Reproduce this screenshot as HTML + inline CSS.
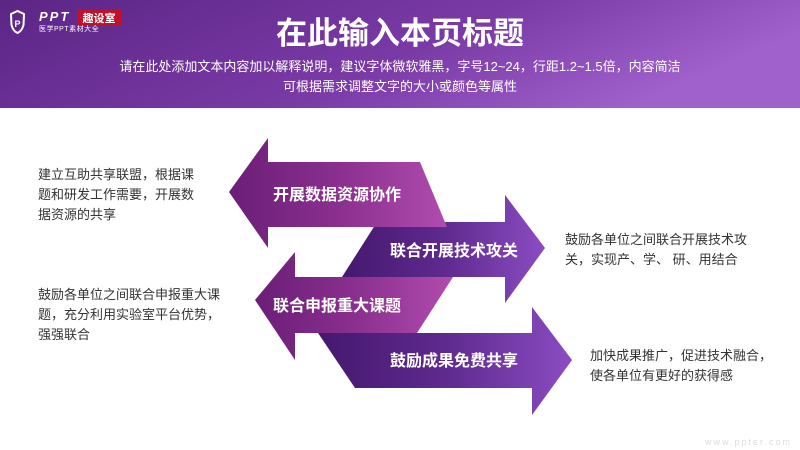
<!DOCTYPE html>
<html><head><meta charset="utf-8"><style>
body{margin:0;width:800px;height:450px;overflow:hidden;background:#fff;font-family:"Liberation Sans","Noto Sans CJK SC",sans-serif;}
svg{display:block}
</style></head><body>
<svg width="800" height="450" xmlns="http://www.w3.org/2000/svg" font-family="Liberation Sans, Noto Sans CJK SC, sans-serif">
<defs>
<linearGradient id="hd" x1="0" y1="0" x2="1" y2="0.3"><stop offset="0" stop-color="#5b2585"/><stop offset="0.6" stop-color="#7a3aa6"/><stop offset="1" stop-color="#a061cc"/></linearGradient>
<linearGradient id="la" x1="0" y1="0" x2="1" y2="0"><stop offset="0" stop-color="#6a1e78"/><stop offset="0.5" stop-color="#8a2f8e"/><stop offset="1" stop-color="#b04cae"/></linearGradient>
<linearGradient id="ra" x1="0" y1="0" x2="1" y2="0"><stop offset="0" stop-color="#45186e"/><stop offset="0.5" stop-color="#5e2a8e"/><stop offset="1" stop-color="#8b4cc2"/></linearGradient>
</defs>
<rect x="0" y="0" width="800" height="108" fill="url(#hd)"/>
<path d="M11 14 L17.5 11 L24 14 L23.5 25 Q22 31 17.5 33 Q13 31 11.5 25 Z" fill="none" stroke="#fff" stroke-width="2"/>
<text x="17.5" y="27" fill="#fff" font-size="9" font-weight="bold" text-anchor="middle">P</text>
<text x="39" y="21" fill="#fff" font-size="13" font-weight="bold" font-style="italic" letter-spacing="2">PPT</text>
<rect x="77" y="10" width="45" height="15" fill="#c0102a"/>
<text x="99" y="22" fill="#fff" font-size="11" font-weight="bold" text-anchor="middle">趣设室</text>
<text x="39" y="31" fill="#fff" font-size="7" letter-spacing="0.5">医学PPT素材大全</text>
<text x="400" y="44" fill="#fff" font-size="31" font-weight="bold" text-anchor="middle">在此输入本页标题</text>
<text x="400" y="71" fill="#fff" font-size="13" text-anchor="middle">请在此处添加文本内容加以解释说明，建议字体微软雅黑，字号12~24，行距1.2~1.5倍，内容简洁</text>
<text x="400" y="91" fill="#fff" font-size="13" text-anchor="middle">可根据需求调整文字的大小或颜色等属性</text>

<polygon points="377,222 505,222 505,195 545,248 505,303 505,277 342,277" fill="url(#ra)"/>
<polygon points="229,192 268,138 268,162 420,162 447,227 268,227 268,248" fill="url(#la)"/>
<polygon points="318,333 532,333 532,307 572,360 532,415 532,388 355,388" fill="url(#ra)"/>
<polygon points="255,300 295,252 295,277 453,277 417,333 295,333 295,360" fill="url(#la)"/>

<g fill="#fff" font-size="16" font-weight="bold">
<text x="273" y="200">开展数据资源协作</text>
<text x="390" y="256">联合开展技术攻关</text>
<text x="273" y="311">联合申报重大课题</text>
<text x="390" y="366">鼓励成果免费共享</text>
</g>
<g fill="#333" font-size="13">
<text x="38" y="179">建立互助共享联盟，根据课</text>
<text x="38" y="199">题和研发工作需要，开展数</text>
<text x="38" y="219">据资源的共享</text>
<text x="38" y="299">鼓励各单位之间联合申报重大课</text>
<text x="38" y="319">题，充分利用实验室平台优势，</text>
<text x="38" y="339">强强联合</text>
<text x="565" y="244">鼓励各单位之间联合开展技术攻</text>
<text x="565" y="264">关，实现产、学、 研、用结合</text>
<text x="590" y="360">加快成果推广，促进技术融合，</text>
<text x="590" y="380">使各单位有更好的获得感</text>
</g>
<text x="705" y="445" fill="#ddd" font-size="9" letter-spacing="2">www.ppter.com</text>
</svg>
</body></html>
